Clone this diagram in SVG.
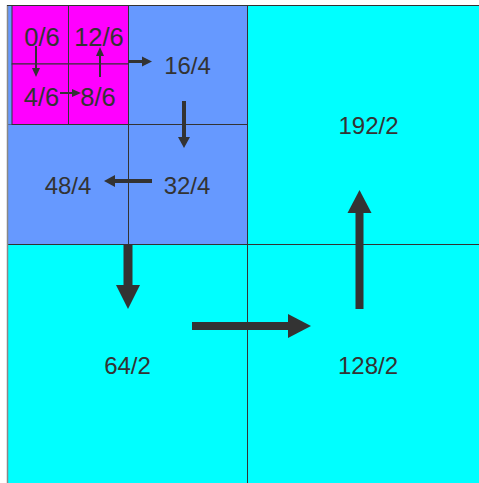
<svg xmlns="http://www.w3.org/2000/svg" width="479" height="483" viewBox="0 0 479 483">
<style>
.lbl{font-family:"Liberation Sans",Arial,sans-serif;font-size:24px;fill:#333;text-anchor:middle}
.sm{font-size:25.5px}
.ar{fill:#333}
.sh{stroke:#333;fill:none}
</style>
<rect x="0" y="0" width="479" height="483" fill="#fff"/>
<g id="node-192-2"><rect x="247.5" y="5.5" width="242" height="239" fill="#00FFFF" stroke="#333"/><text class="lbl" x="368.5" y="134">192/2</text></g>
<g id="node-64-2"><rect x="7.5" y="244.5" width="240" height="240" fill="#00FFFF" stroke="#333"/><text class="lbl" x="127.5" y="374">64/2</text></g>
<g id="node-128-2"><rect x="247.5" y="244.5" width="242" height="240" fill="#00FFFF" stroke="#333"/><text class="lbl" x="368" y="374">128/2</text></g>
<g id="node-48-4"><rect x="7.5" y="124.5" width="121" height="120" fill="#6699FF" stroke="#333"/><text class="lbl" x="68" y="194">48/4</text></g>
<g id="node-32-4"><rect x="128.5" y="124.5" width="119" height="120" fill="#6699FF" stroke="#333"/><text class="lbl" x="187" y="194">32/4</text></g>
<g id="node-16-4"><rect x="128.5" y="5.5" width="119" height="119" fill="#6699FF" stroke="#333"/><text class="lbl" x="187.5" y="74">16/4</text></g>
<g id="node-blue-strip"><rect x="7.5" y="5.5" width="5" height="119" fill="#6699FF" stroke="none"/></g>
<g id="node-0-6"><rect x="12" y="5.5" width="56.5" height="58.5" fill="#FF00FF" stroke="#333"/><text class="lbl sm" x="42" y="46">0/6</text></g>
<g id="node-12-6"><rect x="68.5" y="5.5" width="60" height="58.5" fill="#FF00FF" stroke="#333"/><text class="lbl sm" x="99" y="46">12/6</text></g>
<g id="node-4-6"><rect x="12" y="64" width="56.5" height="60.5" fill="#FF00FF" stroke="#333"/><text class="lbl sm" x="41.5" y="106">4/6</text></g>
<g id="node-8-6"><rect x="68.5" y="64" width="60" height="60.5" fill="#FF00FF" stroke="#333"/><text class="lbl sm" x="98" y="106">8/6</text></g>
<line x1="7.5" y1="5" x2="7.5" y2="483" stroke="#888" stroke-width="1.5"/>
<line x1="7" y1="5.5" x2="479" y2="5.5" stroke="#333" stroke-width="1"/>
<g id="connectors">
<line class="sh" x1="36" y1="46" x2="36" y2="69" stroke-width="2"/><polygon class="ar" points="32,68 40,68 36,77"/>
<line class="sh" x1="60" y1="93" x2="73" y2="93" stroke-width="2"/><polygon class="ar" points="72,89 72,97 81,93"/>
<line class="sh" x1="100" y1="77" x2="100" y2="55" stroke-width="2"/><polygon class="ar" points="96,56 104,56 100,47"/>
<line class="sh" x1="128" y1="61.5" x2="143" y2="61.5" stroke-width="3"/><polygon class="ar" points="142,56.5 142,66.5 152,61.5"/>
<line class="sh" x1="184" y1="101" x2="184" y2="138" stroke-width="4"/><polygon class="ar" points="178,137 190,137 184,148"/>
<line class="sh" x1="152" y1="181" x2="114" y2="181" stroke-width="4"/><polygon class="ar" points="115,175 115,187 104,181"/>
<line class="sh" x1="128" y1="245" x2="128" y2="286" stroke-width="9"/><polygon class="ar" points="116,285 140,285 128,309"/>
<line class="sh" x1="192" y1="326" x2="289" y2="326" stroke-width="8"/><polygon class="ar" points="288,314 288,338 311,326"/>
<line class="sh" x1="359.5" y1="309" x2="359.5" y2="212" stroke-width="8"/><polygon class="ar" points="347.5,213 371.5,213 359.5,190"/>
</g>
</svg>
